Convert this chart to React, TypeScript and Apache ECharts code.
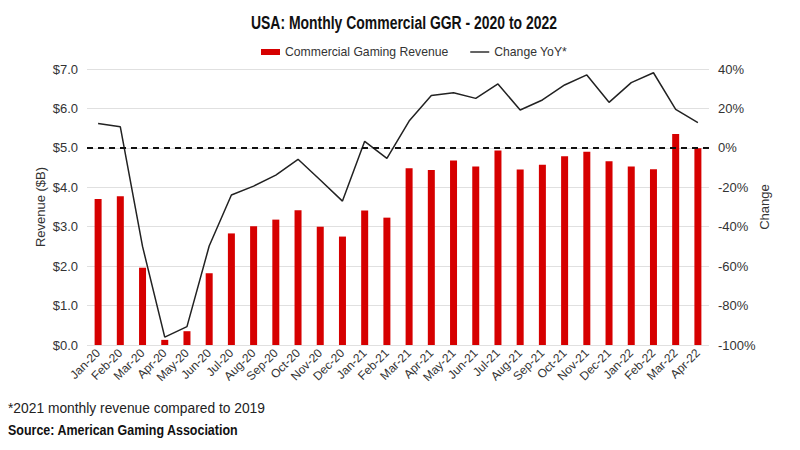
import React, { useEffect, useRef } from "react";
import * as echarts from "echarts";

const months = [
  "Jan-20", "Feb-20", "Mar-20", "Apr-20", "May-20", "Jun-20", "Jul-20", "Aug-20", "Sep-20", "Oct-20", "Nov-20", "Dec-20",
  "Jan-21", "Feb-21", "Mar-21", "Apr-21", "May-21", "Jun-21", "Jul-21", "Aug-21", "Sep-21", "Oct-21", "Nov-21", "Dec-21",
  "Jan-22", "Feb-22", "Mar-22", "Apr-22",
];

const revenue = [
  3.70, 3.77, 1.96, 0.13, 0.35, 1.82, 2.83, 3.01, 3.18, 3.42, 3.00, 2.75,
  3.41, 3.23, 4.48, 4.44, 4.68, 4.53, 4.93, 4.45, 4.57, 4.79, 4.90, 4.66,
  4.53, 4.46, 5.35, 4.99,
];

const changeYoY = [
  12.4, 10.7, -50.0, -96.0, -90.7, -49.8, -23.9, -19.4, -13.8, -5.8, -16.3, -27.0,
  3.3, -5.3, 13.6, 26.5, 28.0, 25.1, 32.4, 19.2, 24.3, 31.9, 37.0, 23.1,
  33.1, 38.1, 19.5, 12.8,
];

const titleText = "USA: Monthly Commercial GGR - 2020 to 2022";
const footnote = "*2021 monthly revenue compared to 2019";
const sourceText = "Source: American Gaming Association";

const FONT = "'Liberation Sans', Arial, sans-serif";

export default function App() {
  const ref = useRef<HTMLDivElement>(null);

  useEffect(() => {
    document.body.style.margin = "0";
    const chart = echarts.init(ref.current!, null, { renderer: "svg" });
    chart.setOption({
      animation: false,
      backgroundColor: "#ffffff",
      textStyle: { fontFamily: FONT },
      legend: {
        top: 41,
        left: 256,
        itemGap: 22,
        itemWidth: 19,
        itemHeight: 6,
        textStyle: { fontSize: 12.2, color: "#333", fontFamily: FONT },
        data: [
          { name: "Commercial Gaming Revenue", icon: "rect" },
          { name: "Change YoY*", icon: "path://M0,0 L19,0 L19,1.4 L0,1.4 Z" },
        ],
      },
      grid: { left: 87, right: 91, top: 69, bottom: 105 },
      xAxis: {
        type: "category",
        data: months,
        boundaryGap: true,
        axisTick: { show: false },
        axisLine: { show: false },
        axisLabel: { rotate: 45, fontSize: 12, color: "#333", margin: 6, interval: 0 },
      },
      yAxis: [
        {
          type: "value",
          min: 0,
          max: 7,
          interval: 1,
          name: "Revenue ($B)",
          nameLocation: "middle",
          nameRotate: 90,
          nameGap: 40,
          nameMoveOverlap: false,
          nameTextStyle: { fontSize: 13, color: "#333" },
          axisLine: { show: false },
          axisTick: { show: false },
          axisLabel: { fontSize: 13, color: "#333", margin: 9, formatter: (v: number) => "$" + v.toFixed(1) },
          splitLine: { lineStyle: { color: "#e0e0e0", width: 1 } },
        },
        {
          type: "value",
          min: -100,
          max: 40,
          interval: 20,
          name: "Change",
          nameLocation: "middle",
          nameRotate: 90,
          nameGap: 49,
          nameMoveOverlap: false,
          nameTextStyle: { fontSize: 13, color: "#333" },
          axisLine: { show: false },
          axisTick: { show: false },
          axisLabel: { fontSize: 13, color: "#333", margin: 9, formatter: (v: number) => v + "%" },
          splitLine: { show: false },
        },
      ],
      series: [
        {
          name: "Commercial Gaming Revenue",
          type: "bar",
          data: revenue,
          yAxisIndex: 0,
          barWidth: 7,
          itemStyle: { color: "#d60000" },
        },
        {
          name: "Change YoY*",
          type: "line",
          data: changeYoY,
          yAxisIndex: 1,
          symbol: "none",
          lineStyle: { color: "#222", width: 1.5 },
          itemStyle: { color: "#222" },
          markLine: {
            silent: true,
            symbol: "none",
            label: { show: false },
            lineStyle: { color: "#111", type: [6, 5], width: 2 },
            data: [{ yAxis: 0 }],
          },
        },
      ],
      graphic: [
        {
          type: "text",
          x: 404,
          y: 22,
          scaleX: 0.775,
          style: {
            text: titleText,
            fontSize: 18,
            fontWeight: "bold",
            fill: "#111",
            fontFamily: FONT,
            textAlign: "center",
            textVerticalAlign: "middle",
          },
        },
        {
          type: "text",
          x: 8,
          y: 408,
          style: { text: footnote, fontSize: 13.8, fill: "#222", fontFamily: FONT, textVerticalAlign: "middle" },
        },
        {
          type: "text",
          x: 8,
          y: 430,
          scaleX: 0.89,
          style: {
            text: sourceText,
            fontSize: 14,
            fontWeight: "bold",
            fill: "#111",
            fontFamily: FONT,
            textVerticalAlign: "middle",
          },
        },
      ],
    });
    return () => chart.dispose();
  }, []);

  return <div ref={ref} style={{ width: 800, height: 450 }} />;
}
